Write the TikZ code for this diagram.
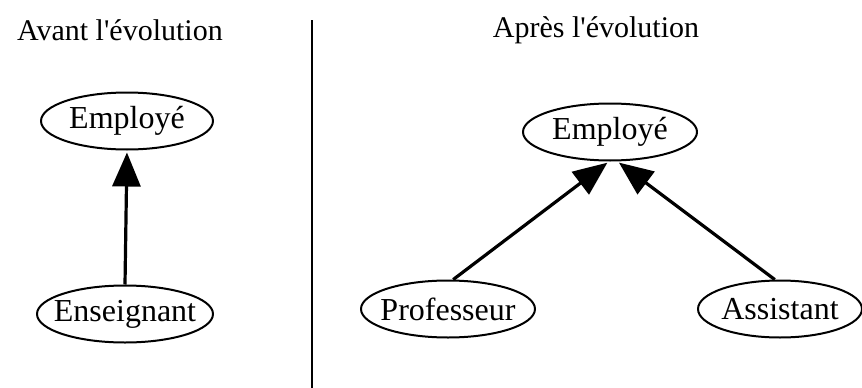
\documentclass[tikz,border=0pt]{standalone}
\usepackage{fontspec}
\setmainfont{Liberation Serif}[Ligatures=TeXOff]
\usetikzlibrary{shapes.geometric,arrows.meta}
\tikzset{
	classe/.style={draw, ellipse, line width=2pt, inner xsep=-16pt, inner ysep=-10pt, minimum height=57pt, font=\fontsize{32}{36}\selectfont},
	titre/.style={font=\fontsize{30}{34}\selectfont},
	herit/.style={line width=3.2pt, -{Triangle[length=34pt,width=28pt]}, shorten >=2pt},
}
\begin{document}
\begin{tikzpicture}[x=1pt, y=-1pt, line join=round]
	\useasboundingbox (0,0) rectangle (862,388);
	\path
	(312,20) coordinate (H)
	(312,388) coordinate (B);
	\draw[line width=2pt] (H)--(B);
	\node[titre] (avant) at (120,30) {Avant l'évolution};
	\node[titre] (apres) at (596,30) {Après l'évolution};
	\node[classe, minimum width=172pt] (emp1) at (127,121) {Employé};
	\node[classe, minimum width=176pt] (ens) at (125,314) {Enseignant};
	\node[classe, minimum width=174pt] (emp2) at (610,132) {Employé};
	\node[classe, minimum width=174pt] (prof) at (448,309) {Professeur};
	\node[classe, minimum width=164pt] (asst) at (780,309) {Assistant};
	\draw[herit] (ens.north) -- (emp1.south);
	\draw[herit] (prof.80) -- (emp2.-92);
	\draw[herit] (asst.100) -- (emp2.-76);
\end{tikzpicture}
\end{document}
